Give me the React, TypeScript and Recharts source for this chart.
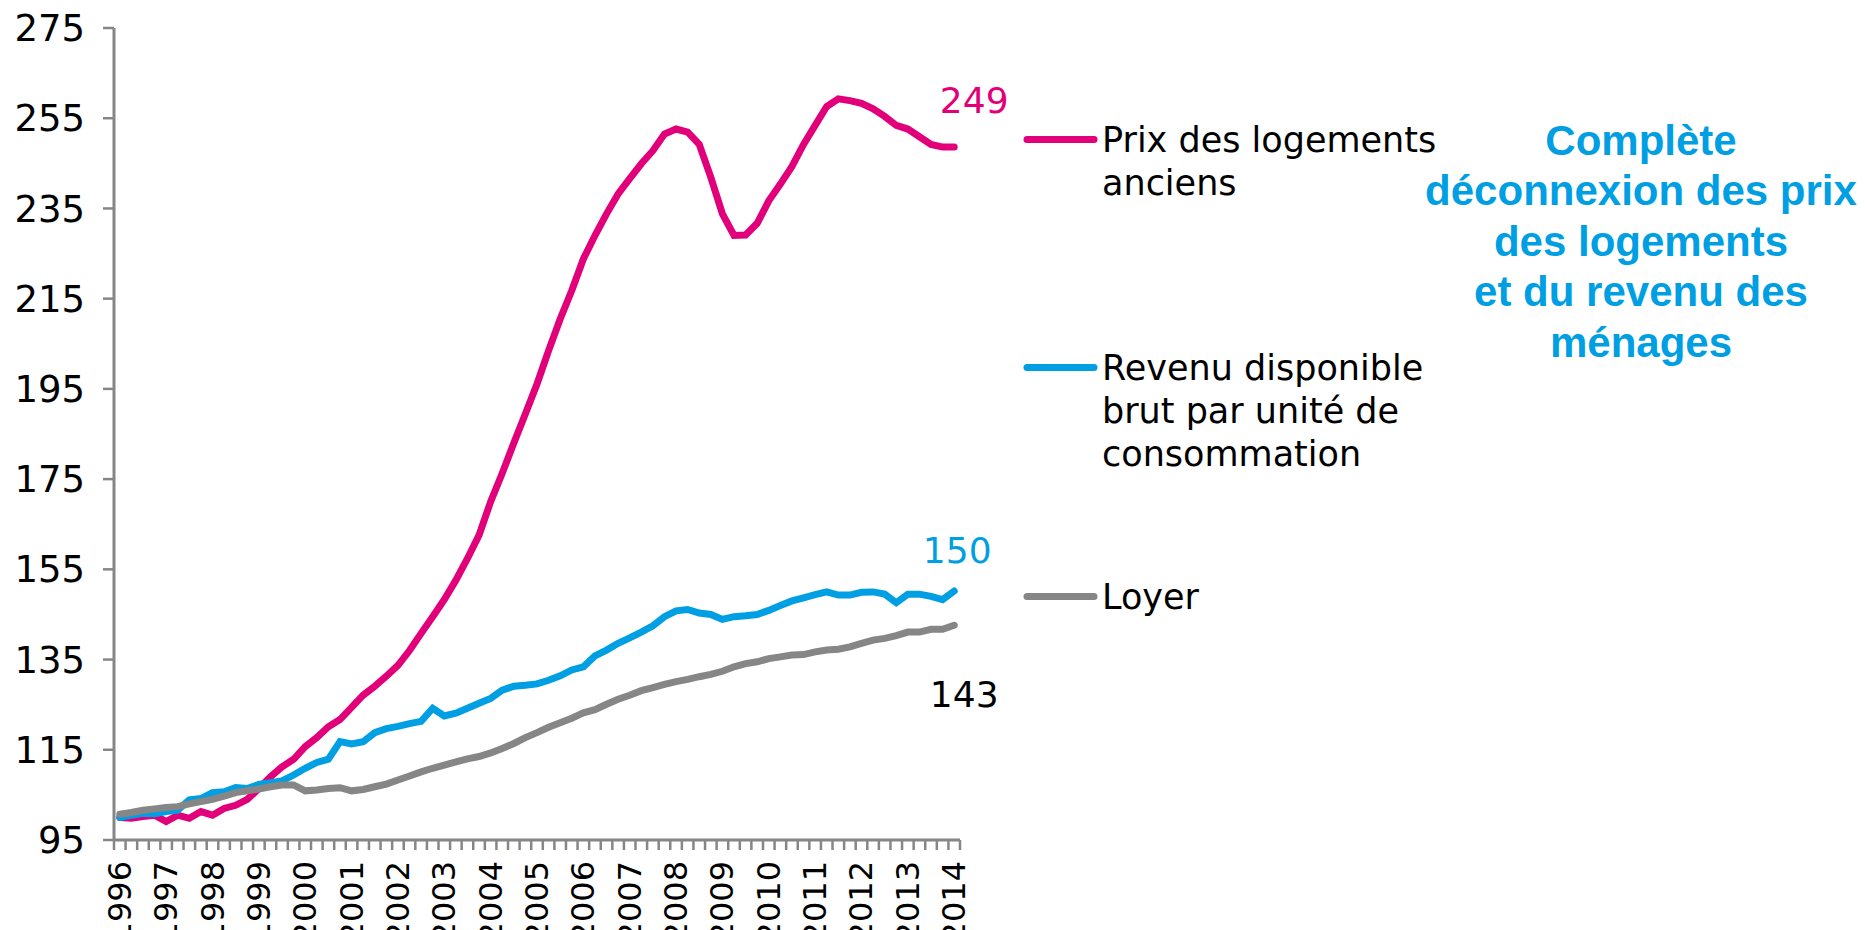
import { Line, LineChart, XAxis, YAxis } from "recharts";


const YEARS = [1996, 1997, 1998, 1999, 2000, 2001, 2002, 2003, 2004, 2005, 2006, 2007, 2008, 2009, 2010, 2011, 2012, 2013, 2014];
const QUARTERS = ["T1", "T2", "T3", "T4"];

// trimestriel, 1996T1 -> 2014T1, base 100
const PRIX = [
  100.0, 99.8, 100.2, 100.5, 99.1, 100.5, 99.8, 101.3, 100.5, 102.0,
  102.7, 104.0, 106.4, 109.0, 111.2, 112.9, 115.7, 117.7, 120.1, 121.7,
  124.4, 127.1, 129.1, 131.3, 133.7, 137.0, 140.8, 144.5, 148.3, 152.6,
  157.4, 162.6, 170.0, 176.3, 183.0, 189.5, 196.1, 203.5, 210.5, 216.8,
  223.8, 229.0, 233.8, 238.2, 241.6, 244.9, 247.8, 251.5, 252.6, 251.9,
  249.2, 241.9, 233.8, 229.0, 229.1, 231.7, 236.7, 240.4, 244.3, 249.2,
  253.4, 257.6, 259.3, 258.9, 258.3, 257.1, 255.4, 253.4, 252.6, 250.9,
  249.2, 248.6, 248.6,
];
const REVENU = [
  100.0, 100.5, 100.9, 100.8, 101.3, 101.6, 103.9, 104.2, 105.5, 105.7,
  106.6, 106.4, 107.3, 107.7, 108.1, 109.4, 110.9, 112.2, 112.9, 116.8,
  116.3, 116.8, 118.8, 119.7, 120.2, 120.8, 121.3, 124.2, 122.5, 123.1,
  124.2, 125.3, 126.4, 128.2, 129.1, 129.3, 129.6, 130.4, 131.4, 132.7,
  133.4, 135.8, 137.1, 138.6, 139.8, 141.1, 142.5, 144.5, 145.8, 146.1,
  145.3, 145.0, 143.9, 144.5, 144.7, 145.0, 145.9, 147.0, 148.0, 148.7,
  149.4, 150.0, 149.3, 149.3, 149.9, 150.0, 149.5, 147.6, 149.5, 149.5,
  149.0, 148.3, 150.2,
];
const LOYER = [
  100.7, 101.1, 101.6, 101.9, 102.2, 102.4, 103.0, 103.5, 104.0, 104.7,
  105.5, 105.9, 106.3, 106.8, 107.2, 107.2, 105.9, 106.1, 106.4, 106.6,
  105.9, 106.2, 106.8, 107.4, 108.3, 109.2, 110.1, 110.9, 111.6, 112.3,
  113.0, 113.5, 114.3, 115.3, 116.4, 117.7, 118.8, 120.0, 121.0, 122.0,
  123.2, 123.9, 125.1, 126.2, 127.1, 128.1, 128.8, 129.5, 130.1, 130.6,
  131.2, 131.7, 132.4, 133.4, 134.1, 134.5, 135.2, 135.6, 136.0, 136.1,
  136.7, 137.1, 137.3, 137.8, 138.6, 139.3, 139.7, 140.3, 141.1, 141.1,
  141.7, 141.7, 142.6,
];
const Y_TICKS = [95, 115, 135, 155, 175, 195, 215, 235, 255, 275];

const SERIES_NAMES = ["Prix des logements anciens", "Revenu disponible brut par unité de consommation", "Loyer"];
const LEGEND_LINES = [["Prix des logements", "anciens"], ["Revenu disponible", "brut par unité de", "consommation"], ["Loyer"]];
const NOTE_LINES = ["Complète", "déconnexion des prix", "des logements", "et du revenu des", "ménages"];

const PINK = "#E2007A";
const BLUE = "#009FE3";
const GREY = "#868686";
const AXIS = "#868686";

const CATEGORIES = YEARS.flatMap((y) => QUARTERS.map((q) => `${y}${q}`)).slice(0, PRIX.length);
const data = CATEGORIES.map((period, i) => ({ period, prix: PRIX[i], revenu: REVENU[i], loyer: LOYER[i] }));
const LAST = data.length - 1;

const W = 1865;
const H = 930;
const PLOT_LEFT = 114;
const PLOT_RIGHT = 960;
const PLOT_TOP = 28;
const X_AXIS_H = 90;
const AXIS_Y = H - X_AXIS_H;
const HALF_STEP = (PLOT_RIGHT - PLOT_LEFT) / data.length / 2;


function XTick(props: any) {
  const { x, payload } = props;
  const index = props.index ?? payload.index;
  const value: string = payload.value;
  const ty = AXIS_Y + 21;
  return (
    <g>
      <line x1={x - HALF_STEP} x2={x - HALF_STEP} y1={AXIS_Y} y2={AXIS_Y + 10} stroke={AXIS} strokeWidth={2.5} />
      {index === LAST && <line x1={x + HALF_STEP} x2={x + HALF_STEP} y1={AXIS_Y} y2={AXIS_Y + 10} stroke={AXIS} strokeWidth={2.5} />}
      {value.endsWith("T1") && (
        <text x={x} y={ty} transform={`rotate(-90 ${x} ${ty})`} textAnchor="end" dominantBaseline="central" fontSize={32} fill="#000">
          {value.slice(0, 4)}
        </text>
      )}
    </g>
  );
}


function endLabel(color: string, dx: number, dy: number) {
  return (props: any) => {
    if (props.index !== LAST) return null;
    return (
      <text x={props.x + dx} y={props.y + dy} textAnchor="middle" fontSize={36} fill={color}>
        {Math.round(props.value)}
      </text>
    );
  };
}


function Legend() {
  const entries = [
    { color: PINK, y: 139.5, lines: LEGEND_LINES[0] },
    { color: BLUE, y: 367.5, lines: LEGEND_LINES[1] },
    { color: GREY, y: 596.5, lines: LEGEND_LINES[2] },
  ];
  return (
    <svg width={W} height={H} style={{ position: "absolute", left: 0, top: 0, pointerEvents: "none" }}>
      {entries.map((e, k) => (
        <g key={SERIES_NAMES[k]}>
          <line x1={1027} x2={1094} y1={e.y} y2={e.y} stroke={e.color} strokeWidth={7} strokeLinecap="round" />
          {e.lines.map((t, j) => (
            <text key={t} x={1102} y={e.y + 12.5 + j * 43} fontSize={35} fill="#000" fontFamily="DejaVu Sans">
              {t}
            </text>
          ))}
        </g>
      ))}
      {NOTE_LINES.map((t, j) => (
        <text key={t} x={1641} y={155 + j * 50.4} textAnchor="middle" fontSize={42} fontWeight="bold" fill={BLUE} fontFamily="Liberation Sans, Arial, sans-serif">
          {t}
        </text>
      ))}
    </svg>
  );
}


export default function App() {
  return (
    <div style={{ position: "absolute", left: 0, top: 0, width: W, height: H, background: "#fff", fontFamily: "DejaVu Sans" }}>
      <LineChart width={W} height={H} data={data} margin={{ top: PLOT_TOP, right: W - PLOT_RIGHT, bottom: 0, left: 0 }}>
        <XAxis
          dataKey="period"
          interval={0}
          height={X_AXIS_H}
          padding={{ left: HALF_STEP, right: HALF_STEP }}
          axisLine={{ stroke: AXIS, strokeWidth: 3 }}
          tickLine={false}
          tickSize={0}
          tickMargin={0}
          tick={<XTick />}
        />
        <YAxis
          domain={[95, 275]}
          ticks={Y_TICKS}
          width={PLOT_LEFT}
          allowDataOverflow
          axisLine={{ stroke: AXIS, strokeWidth: 3 }}
          tickLine={{ stroke: AXIS, strokeWidth: 2.5 }}
          tickSize={11}
          tickMargin={18}
          tick={{ fontSize: 37, fill: "#000" }}
        />
        <Line type="linear" dataKey="prix" name={SERIES_NAMES[0]} stroke={PINK} strokeWidth={7} dot={false} strokeLinecap="round" isAnimationActive={false} label={endLabel(PINK, 20, -34)} />
        <Line type="linear" dataKey="revenu" name={SERIES_NAMES[1]} stroke={BLUE} strokeWidth={7} dot={false} strokeLinecap="round" isAnimationActive={false} label={endLabel(BLUE, 3, -28)} />
        <Line type="linear" dataKey="loyer" name={SERIES_NAMES[2]} stroke={GREY} strokeWidth={7} dot={false} strokeLinecap="round" isAnimationActive={false} label={endLabel("#000", 10, 82)} />
      </LineChart>
      <Legend />
    </div>
  );
}
